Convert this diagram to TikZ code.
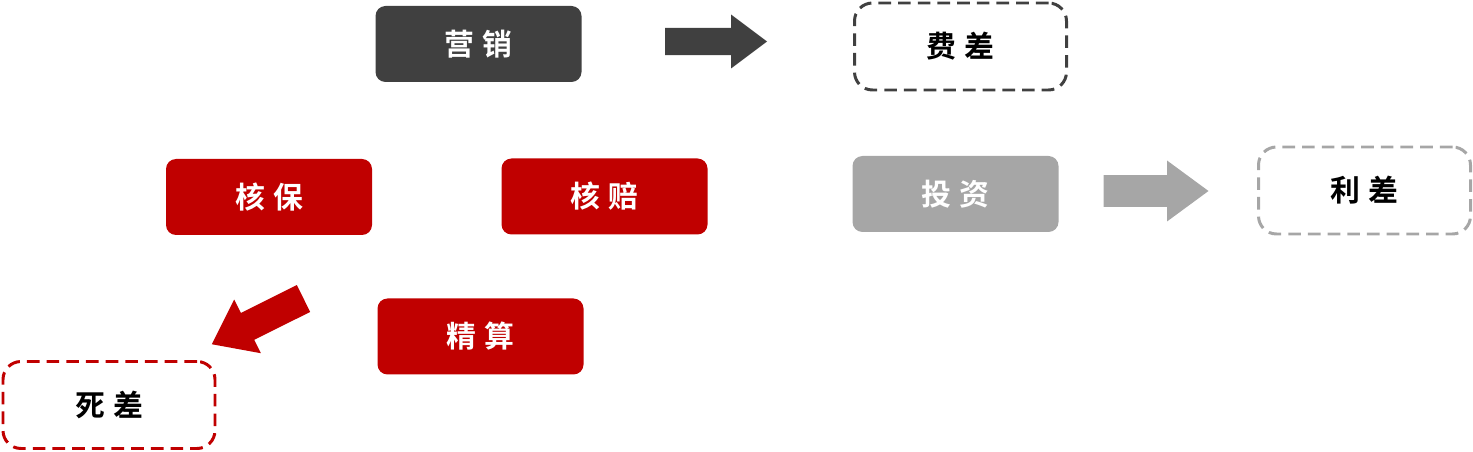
\documentclass[tikz,border=0pt]{standalone}
\usepackage{fontspec}
\newfontfamily\cjk{Noto Sans CJK SC}[BoldFont={Noto Sans CJK SC Bold}]
\usetikzlibrary{positioning}
\definecolor{grisosc}{HTML}{404040}
\definecolor{rojo}{HTML}{C00000}
\definecolor{grismed}{HTML}{A6A6A6}
\newcommand{\esp}{\hspace{0.27em}}
\tikzset{
  caja/.style={rectangle, rounded corners=0.2cm, minimum width=4.12cm, minimum height=1.52cm,
               text centered, text=white, font=\cjk\bfseries\fontsize{17}{20}\selectfont},
  cajad/.style={rectangle, rounded corners=0.36cm, minimum width=4.24cm, minimum height=1.74cm,
                text centered, text=black, line width=1.7pt, dash pattern=on 7.2pt off 4pt,
                font=\cjk\bfseries\fontsize{17}{20}\selectfont},
  flecha/.style={draw=none}
}
\begin{document}
\begin{tikzpicture}
  \useasboundingbox (0,0) rectangle (29.46,-9.04);
  % fila de arriba
  \node (marketing) [caja, fill=grisosc] at (9.57,-0.88) {营\esp{}销};
  \node (feicha) [cajad, draw=grisosc] at (19.21,-0.93) {费\esp{}差};
  % fila del medio
  \node (hebao) [caja, fill=rojo] at (5.38,-3.94) {核\esp{}保};
  \node (hepei) [caja, fill=rojo] at (12.09,-3.93) {核\esp{}赔};
  \node (touzi) [caja, fill=grismed] at (19.11,-3.88) {投\esp{}资};
  \node (licha) [cajad, draw=grismed] at (27.29,-3.81) {利\esp{}差};
  % fila de abajo
  \node (jingsuan) [caja, fill=rojo] at (9.61,-6.73) {精\esp{}算};
  \node (sicha) [cajad, draw=rojo] at (2.18,-8.10) {死\esp{}差};
  % flechas gruesas
  \fill [flecha, grisosc, shift={(13.3,-0.83)}] (0,-0.273) -- (1.32,-0.273) -- (1.32,-0.54)
    -- (2.04,0) -- (1.32,0.54) -- (1.32,0.273) -- (0,0.273) -- cycle;
  \fill [flecha, grismed, shift={(22.07,-3.82)}] (0,-0.316) -- (1.27,-0.316) -- (1.27,-0.61)
    -- (2.1,0) -- (1.27,0.61) -- (1.27,0.316) -- (0,0.316) -- cycle;
  \fill [flecha, rojo, shift={(6.07,-5.97)}, rotate=206.5] (0,-0.3) -- (1.25,-0.3) -- (1.25,-0.6)
    -- (2.05,0) -- (1.25,0.6) -- (1.25,0.3) -- (0,0.3) -- cycle;
\end{tikzpicture}
\end{document}
